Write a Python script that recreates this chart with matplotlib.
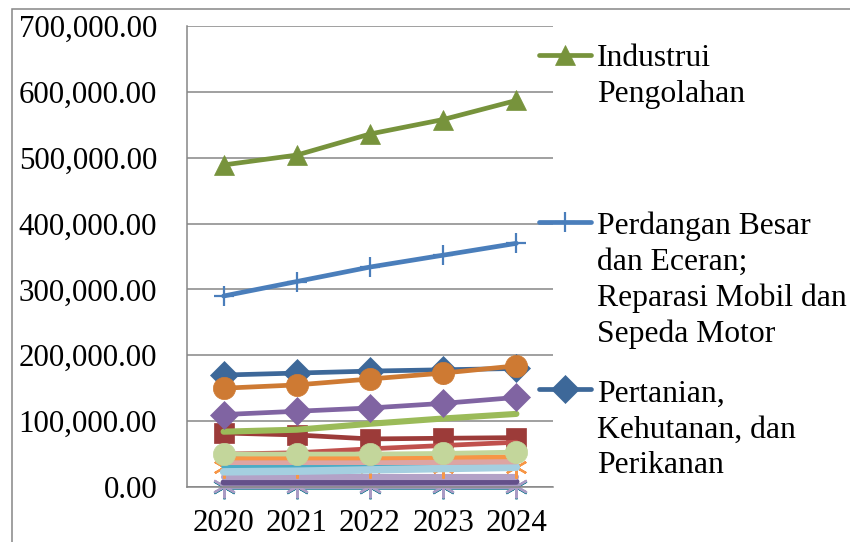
import matplotlib
matplotlib.use("Agg")
import matplotlib.pyplot as plt
from matplotlib.lines import Line2D
from matplotlib.patches import Rectangle
from matplotlib.ticker import FuncFormatter, MultipleLocator

plt.rcParams['font.family'] = ['Liberation Serif', 'DejaVu Serif']

years = ["2020", "2021", "2022", "2023", "2024"]

# series values
pertanian = [170000, 173000, 176000, 178000, 180000]
industri = [489000, 504000, 536000, 558000, 587000]
perdagangan = [290000, 312000, 334000, 352000, 370000]
s_orange_circle = [150000, 155000, 164000, 173000, 184000]
s_purple_diamond = [110000, 115000, 120000, 127000, 136000]
s_green_line = [84000, 87000, 96000, 104000, 111000]
s_darkred_square = [82000, 79000, 73000, 74000, 75000]
s_red_line = [50000, 52000, 58000, 63000, 68000]
s_lightgreen_circle = [50000, 50000, 50000, 51000, 53000]
s_orange_line = [44000, 44000, 44000, 45000, 46000]
s_pink_line = [38000, 38000, 38000, 38000, 39000]
s_orange_star = [30000, 30000, 30000, 30000, 30000]
s_aqua_line = [31000, 31000, 31000, 32000, 33000]
s_lightblue_line = [23000, 24000, 26000, 28000, 30000]
s_lavender_line = [15000, 15000, 15000, 15000, 15000]
s_darkpurple_line = [7000, 7000, 7000, 7500, 8000]
s_teal_star = [500, 500, 500, 500, 500]
s_lavender_star = [1000, 1000, 1000, 1000, 1000]

legend_labels = ["Industrui\nPengolahan",
                 "Perdangan Besar\ndan Eceran;\nReparasi Mobil dan\nSepeda Motor",
                 "Pertanian,\nKehutanan, dan\nPerikanan"]

W, H = 850, 542
fig = plt.figure(figsize=(8.5, 5.42), dpi=100)
fig.patch.set_facecolor("white")

def fx(px):
    return px / W

def fy(py):
    return 1 - py / H

ax = fig.add_axes([fx(187), fy(487), fx(553) - fx(187), fy(26) - fy(487)])
x = list(range(len(years)))

STAR = (6, 2, 0)
lw = 3.4
ms = 14

series = [
    (pertanian, "#3D6899", "D", ms, lw),
    (s_teal_star, "#31859C", STAR, 17, lw),
    (s_lavender_star, "#A99BC4", STAR, 17, lw),
    (s_darkpurple_line, "#64508A", None, ms, lw + 1),
    (s_lavender_line, "#B3A2C7", None, ms, lw + 1),
    (s_orange_star, "#F79646", STAR, 16, lw),
    (s_aqua_line, "#4BACC6", None, ms, lw),
    (s_lightblue_line, "#A5CFE0", None, ms, lw + 2),
    (s_pink_line, "#DDA5A3", None, ms, lw + 1),
    (s_orange_line, "#F79646", None, ms, lw),
    (s_darkred_square, "#9C3B39", "s", 15, lw),
    (s_green_line, "#9BBB59", None, ms, lw + 1),
    (s_red_line, "#C0504D", None, ms, lw),
    (s_lightgreen_circle, "#C3D69B", "o", 16, lw),
    (s_purple_diamond, "#8064A2", "D", ms, lw),
    (s_orange_circle, "#CE7A33", "o", 16, lw),
    (industri, "#77933C", "^", 15, lw),
    (perdagangan, "#4A7EBB", "+", 15, lw),
]

for vals, col, mk, msz, lwd in series:
    kw = {}
    if mk is not None:
        kw = dict(marker=mk, markersize=msz, markerfacecolor=col,
                  markeredgecolor=col,
                  markeredgewidth=1.6 if mk in ("+", STAR) else 0.5)
    ax.plot(x, vals, color=col, linewidth=lwd, solid_capstyle="round",
            clip_on=False, **kw)

ax.set_xlim(-0.5, len(years) - 0.5)
ax.set_ylim(0, 700000)
ax.yaxis.set_major_locator(MultipleLocator(100000))
ax.yaxis.set_major_formatter(FuncFormatter(lambda v, p: f"{v:,.2f}"))
ax.set_xticks(x)
ax.set_xticklabels(years)
ax.tick_params(axis="both", length=0, labelsize=22.2, colors="black")
ax.tick_params(axis="y", pad=21.5)
ax.tick_params(axis="x", pad=16)
ax.grid(axis="y", color="#868686", linewidth=1.1)
ax.set_axisbelow(True)
for s in ["top", "right"]:
    ax.spines[s].set_visible(False)
for s in ["left", "bottom"]:
    ax.spines[s].set_color("#868686")
    ax.spines[s].set_linewidth(1.1)

# outer chart border
fig.add_artist(Rectangle((fx(12), fy(560)), 1.2, fy(9) - fy(560),
                         transform=fig.transFigure, fill=False,
                         edgecolor="#868686", linewidth=1.1))

# manual legend: (label, colour, marker, size, line y, last-line baseline y)
leg_items = [
    (legend_labels[0], "#77933C", "^", 15, 55, 102),
    (legend_labels[1], "#4A7EBB", "+", 15, 222, 342),
    (legend_labels[2], "#3D6899", "D", 14, 389, 473),
]
for lab, col, mk, msz, ly, base in leg_items:
    fig.add_artist(Line2D([fx(539), fx(591)], [fy(ly), fy(ly)],
                          transform=fig.transFigure, color=col,
                          linewidth=lw, solid_capstyle="round"))
    fig.add_artist(Line2D([fx(565)], [fy(ly)], transform=fig.transFigure,
                          color=col, marker=mk, markersize=msz,
                          markerfacecolor=col, markeredgecolor=col,
                          markeredgewidth=1.6 if mk == "+" else 0.5,
                          linestyle="none"))
    fig.text(fx(597), fy(base), lab, fontsize=22.8, va="baseline",
             ha="left", linespacing=1.3, color="black")

fig.savefig("out.png", dpi=100)
